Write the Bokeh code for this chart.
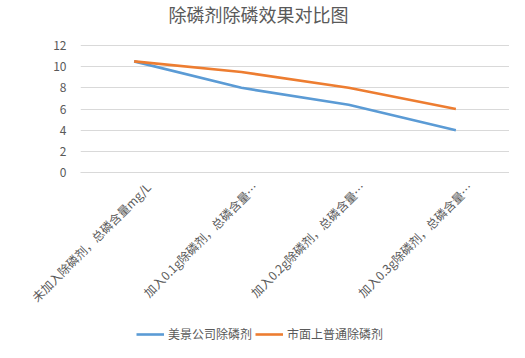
import math
from bokeh.plotting import figure
from bokeh.models import Legend, LegendItem, FixedTicker, Range1d
from bokeh.layouts import column
from bokeh.embed import file_html
from bokeh.resources import INLINE

categories = ["未加入除磷剂，总磷含量mg/L", "加入0.1g除磷剂，总磷含量…",
              "加入0.2g除磷剂，总磷含量…", "加入0.3g除磷剂，总磷含量…"]
meijing = [10.5, 8.0, 6.4, 4.0]
shichang = [10.5, 9.5, 8.0, 6.0]
series_names = ["美景公司除磷剂", "市面上普通除磷剂"]
series_colors = ["#5B9BD5", "#ED7D31"]
y_ticks = [0, 2, 4, 6, 8, 10, 12]

FONT = "Noto Sans CJK SC"
GRAY = "#595959"
W = 509

xs = list(range(1, len(categories) + 1))
label_shift = 0.13  # Excel draws rotated category labels slightly right of the category centre
label_pos = [x + label_shift for x in xs]

# frame: y=0 at 172px, y=12 at 45px; frame top a little higher leaves room above the 12 gridline
FRAME_TOP = 28
y_top = 12 + (45 - FRAME_TOP) / (127 / 12)

p = figure(width=W, height=316, output_backend="svg", toolbar_location=None,
           x_range=Range1d(0.5, len(categories) + 0.5), y_range=Range1d(0, y_top),
           min_border_left=80, min_border_right=0, min_border_top=FRAME_TOP,
           min_border_bottom=144)
p.outline_line_color = None
p.background_fill_color = "white"
p.border_fill_color = "white"

p.title.text = "除磷剂除磷效果对比图"
p.title.text_font = FONT
p.title.text_font_size = "18px"
p.title.text_font_style = "normal"
p.title.text_color = GRAY
p.title.align = "left"
p.title.offset = 88
p.title.vertical_align = "top"
p.title.standoff = 0

p.line(xs, meijing, line_color=series_colors[0], line_width=2.6)
p.line(xs, shichang, line_color=series_colors[1], line_width=2.6)

p.xgrid.visible = False
p.ygrid.grid_line_color = "#D9D9D9"
p.ygrid.ticker = FixedTicker(ticks=y_ticks)

p.yaxis.ticker = FixedTicker(ticks=y_ticks)
p.yaxis.axis_line_color = None
p.yaxis.major_tick_line_color = None
p.yaxis.minor_tick_line_color = None
p.yaxis.major_label_text_font = FONT
p.yaxis.major_label_text_font_size = "12px"
p.yaxis.major_label_text_color = GRAY
p.yaxis.major_label_standoff = 8

p.xaxis.ticker = FixedTicker(ticks=label_pos)
p.xaxis.major_label_overrides = {x: c for x, c in zip(label_pos, categories)}
p.xaxis.major_label_orientation = math.pi / 4
p.xaxis.axis_line_color = "#D9D9D9"
p.xaxis.major_tick_line_color = None
p.xaxis.minor_tick_line_color = None
p.xaxis.major_label_text_font = FONT
p.xaxis.major_label_text_font_size = "12px"
p.xaxis.major_label_text_color = GRAY
p.xaxis.major_label_standoff = 6

# Legend strip below the chart; its line renderers hold the series but lie outside its view
pl = figure(width=W, height=26, output_backend="svg", toolbar_location=None,
            x_axis_type=None, y_axis_type=None,
            x_range=Range1d(-2, -1), y_range=Range1d(-2, -1),
            min_border_left=0, min_border_right=0, min_border_top=0,
            min_border_bottom=0)
pl.outline_line_color = None
pl.xgrid.visible = False
pl.ygrid.visible = False
items = []
for name, col, vals in zip(series_names, series_colors, [meijing, shichang]):
    r = pl.line(xs, vals, line_color=col, line_width=2.6)
    items.append(LegendItem(label=name, renderers=[r]))
legend = Legend(items=items, orientation="horizontal", location=(56, 0),
                glyph_width=28, glyph_height=14, label_height=14,
                label_standoff=4, spacing=3,
                padding=0, margin=0, border_line_color=None,
                background_fill_alpha=0,
                label_text_font=FONT, label_text_font_size="12px",
                label_text_color=GRAY)
pl.add_layout(legend, "center")

open("out.html", "w").write(file_html(column(p, pl, spacing=0), INLINE))
